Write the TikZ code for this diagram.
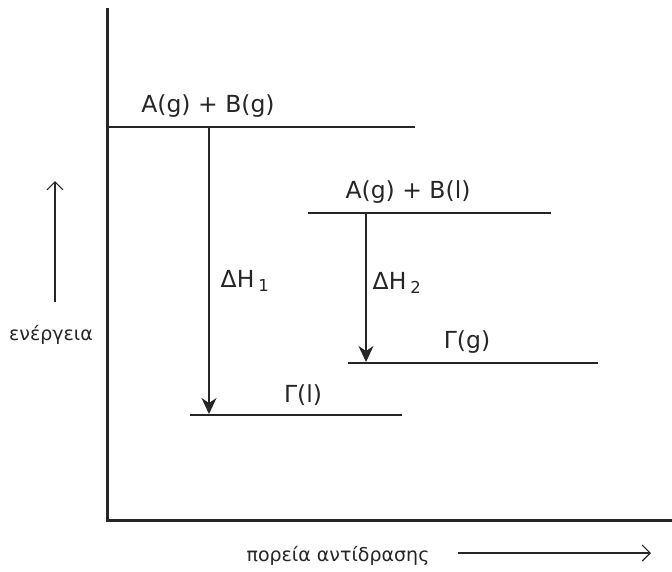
\documentclass[tikz,border=0pt]{standalone}
\usepackage{fontspec}
\setmainfont{DejaVu Sans}
\usetikzlibrary{arrows.meta}
\begin{document}
\begin{tikzpicture}[
  x=1pt, y=-1pt,
  axis/.style={line width=3pt, black!85},
  level/.style={line width=1.3pt, black!85},
  species/.style={font=\fontsize{23.5}{28}\selectfont, text=black!85},
  caption/.style={font=\fontsize{19}{23}\selectfont, text=black!85},
  dh/.style={line width=1.3pt, black!85, -{Stealth[length=16pt, width=15pt, inset=5pt]}},
  guide/.style={line width=1.1pt, black!85, -{Straight Barb[length=8pt, width=16pt]}},
]
\useasboundingbox (0,0) rectangle (672,571);

% axes
\coordinate (top)    at (107,8);
\coordinate (origin) at (107,520);
\coordinate (right)  at (672,520);
\draw[axis] (top) -- (origin) -- (right);

% energy levels
\coordinate (ab1) at (107,127); \coordinate (ab2) at (415,127);
\coordinate (al1) at (308,213); \coordinate (al2) at (551,213);
\coordinate (cg1) at (348,363); \coordinate (cg2) at (598,363);
\coordinate (cl1) at (190,415); \coordinate (cl2) at (402,415);
\draw[level] (ab1) -- (ab2);
\draw[level] (al1) -- (al2);
\draw[level] (cg1) -- (cg2);
\draw[level] (cl1) -- (cl2);

\node[species] (abg) at (208,106) {A(g) + B(g)};
\node[species] (abl) at (408,192) {A(g) + B(l)};
\node[species] (gg)  at (467,342) {Γ(g)};
\node[species] (gl)  at (303,395) {Γ(l)};

% enthalpy changes
\coordinate (d1s) at (209,127); \coordinate (d1e) at (209,414);
\coordinate (d2s) at (366,213); \coordinate (d2e) at (366,362);
\draw[dh] (d1s) -- (d1e);
\draw[dh] (d2s) -- (d2e);
\node[species] (h1) at (245,281) {ΔH\,\textsubscript{1}};
\node[species] (h2) at (397,283) {ΔH\,\textsubscript{2}};

% axis labels
\node[caption] (en) at (51,335) {ενέργεια};
\coordinate (enlo) at (55,302); \coordinate (enhi) at (55,181);
\draw[guide] (enlo) -- (enhi);
\node[caption] (rx) at (338,556) {πορεία αντίδρασης};
\coordinate (rxl) at (458,553); \coordinate (rxr) at (651,553);
\draw[guide] (rxl) -- (rxr);
\end{tikzpicture}
\end{document}
